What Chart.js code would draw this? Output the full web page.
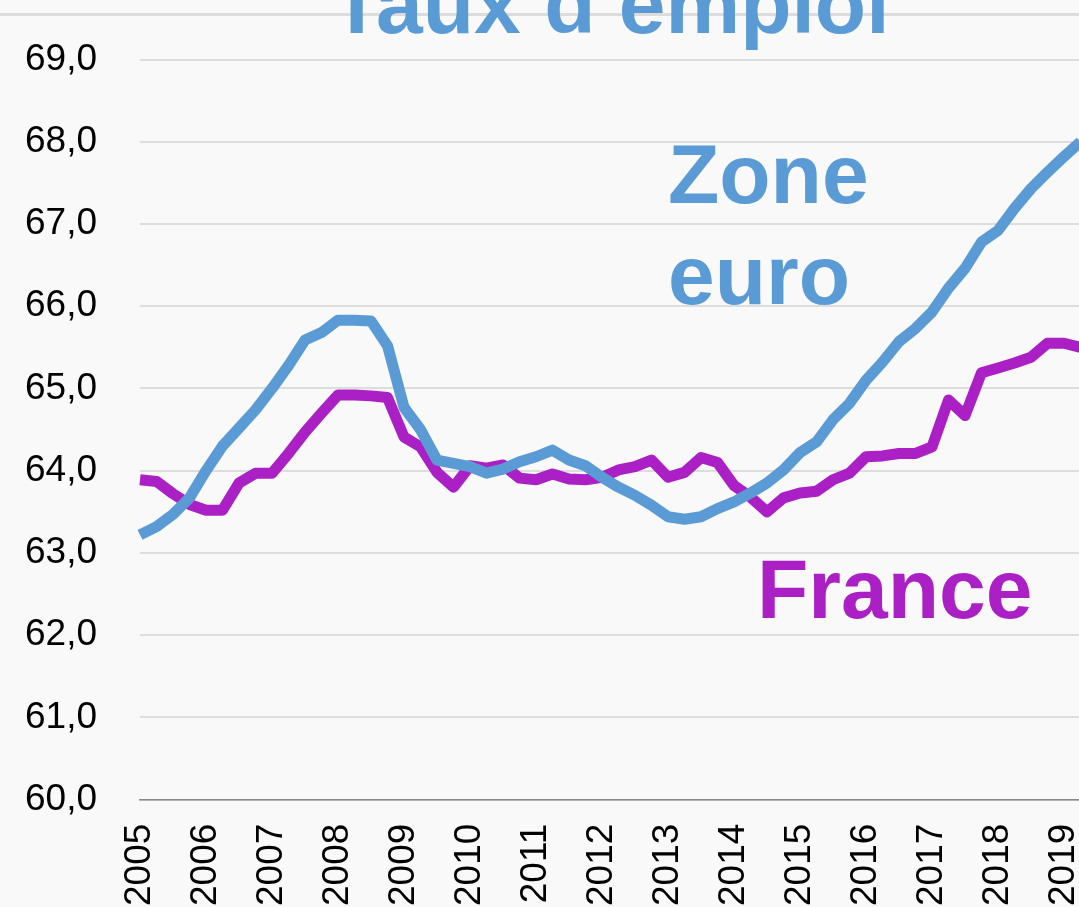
<!DOCTYPE html>
<html>
<head>
<meta charset="utf-8">
<script src="https://cdn.jsdelivr.net/npm/chart.js@4/dist/chart.umd.min.js"></script>
<style>
  html, body { margin: 0; padding: 0; background: #F9F9F9; overflow: hidden; }
  #wrap { position: relative; width: 1079px; height: 907px; overflow: hidden; background: #F9F9F9; }
  #topline { position: absolute; left: 0; top: 13px; width: 1079px; height: 3px; background: #DCDCDC; z-index: 0; }
  #c { position: absolute; left: 0; top: -37px; z-index: 1; }
</style>
</head>
<body>
<div id="wrap">
  <div id="topline"></div>
  <canvas id="c" width="1214" height="944"></canvas>
</div>
<script>
// ---- Data ----
const years = [2005, 2006, 2007, 2008, 2009, 2010, 2011, 2012, 2013, 2014, 2015, 2016, 2017, 2018, 2019];
const quarterSuffixes = ['T1', 'T2', 'T3', 'T4'];
// quarterly categories, 2005T1 .. 2019T2 (last visible point)
const categories = years.flatMap(y => quarterSuffixes.map(q => y + q)).slice(0, 58);

const zoneEuro = [
  63.22, 63.32, 63.47, 63.67, 64.00, 64.30, 64.52, 64.74,
  65.00, 65.28, 65.59, 65.68, 65.83, 65.83, 65.82, 65.52,
  64.77, 64.50, 64.13, 64.09, 64.05, 63.97, 64.02, 64.11,
  64.17, 64.25, 64.13, 64.06, 63.92, 63.80, 63.70, 63.58,
  63.44, 63.41, 63.44, 63.54, 63.62, 63.73, 63.85, 64.01,
  64.22, 64.35, 64.62, 64.82, 65.10, 65.32, 65.57, 65.73,
  65.93, 66.22, 66.46, 66.78, 66.92, 67.19, 67.43, 67.63,
  67.82, 68.00
];
const france = [
  63.89, 63.87, 63.72, 63.59, 63.52, 63.52, 63.85, 63.97,
  63.97, 64.21, 64.47, 64.70, 64.92, 64.92, 64.91, 64.89,
  64.41, 64.29, 63.98, 63.80, 64.06, 64.03, 64.07, 63.91,
  63.89, 63.96, 63.90, 63.89, 63.92, 64.01, 64.05, 64.13,
  63.92, 63.98, 64.16, 64.10, 63.82, 63.68, 63.50, 63.67,
  63.73, 63.75, 63.89, 63.97, 64.17, 64.18, 64.21, 64.21,
  64.29, 64.86, 64.67, 65.19, 65.25, 65.31, 65.38, 65.55,
  65.55, 65.50
];
const yMin = 60;
const yMax = 69;
const titleText = 'Taux d\u2019emploi';
const seriesNames = ['Zone euro', 'France'];

// ---- Styles ----
const BLUE = '#5B9BD5';
const PURPLE = '#AB20C5';
const FONT = "'Liberation Sans', Arial, sans-serif";

const annotations = {
  id: 'annotations',
  afterDraw(chart) {
    const ctx = chart.ctx;
    ctx.save();
    ctx.font = 'bold 84px ' + FONT;
    ctx.textAlign = 'left';
    ctx.textBaseline = 'alphabetic';
    ctx.fillStyle = BLUE;
    ctx.fillText('Zone', 668, 240);
    ctx.fillText('euro', 668, 341);
    ctx.fillStyle = PURPLE;
    ctx.fillText('France', 757, 655);
    ctx.restore();
  }
};

new Chart(document.getElementById('c'), {
  type: 'line',
  data: {
    labels: categories,
    datasets: [
      { label: seriesNames[0], data: zoneEuro, borderColor: BLUE, backgroundColor: BLUE,
        borderWidth: 11, pointRadius: 0, tension: 0, fill: false, order: 0,
        borderJoinStyle: 'round', borderCapStyle: 'butt' },
      { label: seriesNames[1], data: france, borderColor: PURPLE, backgroundColor: PURPLE,
        borderWidth: 11, pointRadius: 0, tension: 0, fill: false, order: 1,
        borderJoinStyle: 'round', borderCapStyle: 'butt' }
    ]
  },
  options: {
    responsive: false,
    devicePixelRatio: 1,
    animation: false,
    layout: { padding: { left: 25, right: 133.5, top: 0, bottom: 1 } },
    plugins: {
      legend: { display: false },
      tooltip: { enabled: false },
      title: {
        display: true,
        fullSize: false,
        text: titleText,
        color: BLUE,
        font: { family: FONT, size: 84, weight: 'bold', lineHeight: 1 },
        padding: { top: 4.6, bottom: 7.9 }
      }
    },
    scales: {
      x: {
        type: 'category',
        offset: false,
        grid: { display: false, drawTicks: true, tickLength: 24, tickColor: 'rgba(0,0,0,0)' },
        border: { display: true, color: '#898989', width: 1.5 },
        ticks: {
          autoSkip: false,
          minRotation: 90,
          maxRotation: 90,
          padding: 0,
          color: '#000000',
          font: { family: FONT, size: 37 },
          callback: function (value) {
            const l = this.getLabelForValue(value);
            return l.endsWith('T1') ? l.slice(0, 4) : '';
          }
        }
      },
      y: {
        min: yMin,
        max: yMax,
        grid: { color: '#DDDDDD', lineWidth: 2, drawTicks: true, tickLength: 43, tickColor: 'rgba(0,0,0,0)' },
        border: { display: false },
        ticks: {
          stepSize: 1,
          padding: 0,
          color: '#000000',
          font: { family: FONT, size: 37 },
          callback: v => v.toFixed(1).replace('.', ',')
        }
      }
    }
  },
  plugins: [annotations]
});
</script>
</body>
</html>
